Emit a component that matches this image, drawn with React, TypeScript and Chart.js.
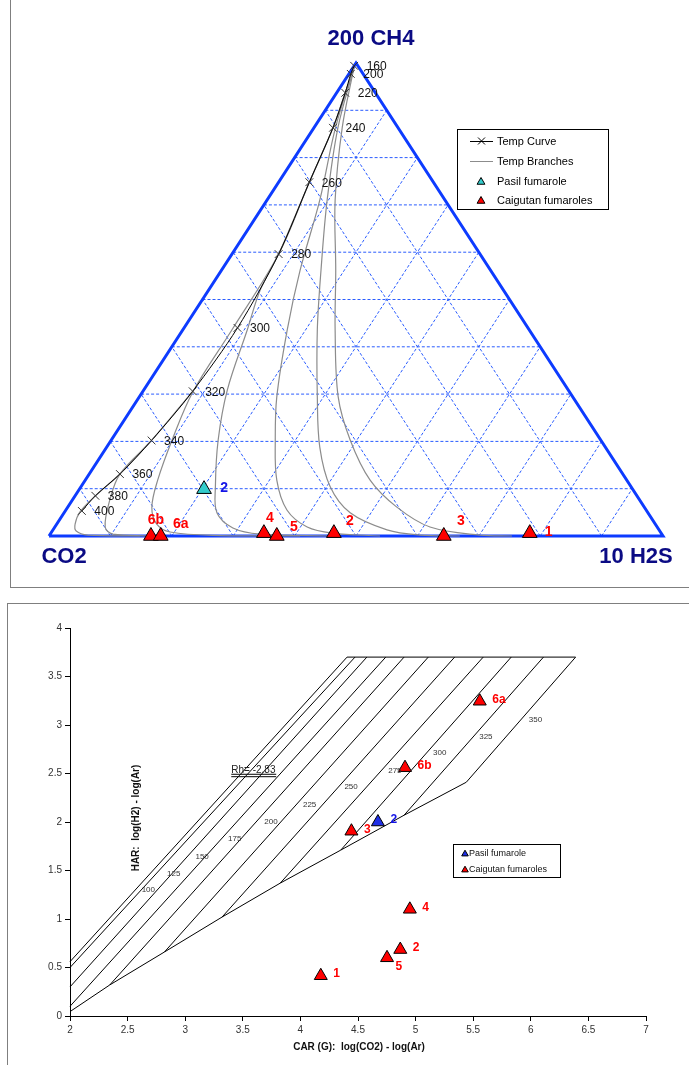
import React, { useEffect, useRef } from "react";
import { Chart, registerables } from "chart.js";

Chart.register(...registerables);

const FONT = '"Liberation Sans", Arial, sans-serif';

// ================= TOP: ternary CO2 - CH4 - H2S (values in %, CO2 = rest) =================
const gridSteps = [10, 20, 30, 40, 50, 60, 70, 80, 90];
const frameH2S = [0, 100, 0, 0];
const frameCH4 = [0, 0, 100, 0];

const tempLabels = ["160", "200", "220", "240", "260", "280", "300", "320", "340", "360", "380", "400"];
const tempH2S = [0.0, 0.3, 1.4, 3.1, 5.0, 7.6, 8.7, 8.1, 6.6, 5.0, 3.3, 2.7];
const tempCH4 = [99.4, 97.7, 93.7, 86.3, 74.8, 59.6, 44.0, 30.6, 20.2, 13.1, 8.5, 5.3];

// Temperature branches (grey)
const branchA_H2S = [6.6, 5.0, 3.3, 2.5, 3.0, 3.9, 6.2, 14.8];
const branchA_CH4 = [20.2, 13.1, 8.5, 5.1, 2.5, 1.06, 0.2, 0];
const branchB_H2S = [8.1, 6.6, 5.0, 6.1, 8.2, 10.2, 16.4];
const branchB_CH4 = [30.6, 20.2, 13.1, 7.6, 1.9, 0.4, 0];
const branchC_H2S = [0.2, 1.4, 3.1, 5.0, 7.6, 8.0, 8.2, 9.9, 11.8, 13.7, 16.3, 19.3, 27.8, 40.9];
const branchC_CH4 = [98.9, 93.7, 86.3, 74.8, 59.6, 43.6, 30.4, 20.3, 11.8, 6.1, 2.5, 0.85, 0.1, 0];
const branchD_H2S = [0.2, 1.4, 3.1, 5.0, 7.6, 8.4, 10.5, 13.6, 17.4, 21.9, 24.9, 29.1, 34.2, 45.8];
const branchD_CH4 = [98.9, 93.7, 86.3, 74.8, 59.6, 52.0, 43.6, 30.9, 20.3, 10.4, 4.9, 1.7, 0.4, 0];
const branchE_H2S = [0.2, 3.5, 8.6, 12.8, 17.0, 22.4, 26.7, 31.2, 36.0, 41.1, 45.9, 53.9];
const branchE_CH4 = [98.9, 86.3, 71.0, 56.2, 43.6, 29.4, 20.3, 11.8, 5.5, 1.9, 0.6, 0];
const branchF_H2S = [0.2, 3.9, 9.8, 16.2, 21.9, 29.0, 34.7, 40.6, 46.6, 54.4, 60.3, 66.9];
const branchF_CH4 = [98.9, 86.3, 71.0, 56.2, 43.6, 29.4, 18.8, 10.4, 4.9, 1.3, 0.2, 0];
const branchG_H2S = [0.2, 4.6, 11.1, 18.6, 24.8, 32.4, 38.9, 46.4, 53.6, 61.1, 70.1, 75.4];
const branchG_CH4 = [98.9, 86.3, 71.0, 56.2, 43.6, 29.4, 20.3, 11.8, 6.1, 1.9, 0.2, 0];

const pasilTopNames = ["2"];
const pasilTopH2S = [20.3];
const pasilTopCH4 = [9.9];

const caigTopNames = ["6b", "6a", "4", "5", "2", "3", "1"];
const caigTopH2S = [16.6, 18.2, 34.7, 37.1, 46.1, 64.3, 78.0];
const caigTopCH4 = [0, 0, 0.6, 0, 0.6, 0, 0.6];

// ================= BOTTOM: CAR - HAR grid =================
const isoStartCAR = [2.0, 2.0, 2.0, 2.0, 2.345, 2.82, 3.32, 3.825, 4.35, 4.9];
const isoStartHAR = [0.56, 0.5, 0.3, 0.1, 0.32, 0.66, 1.02, 1.37, 1.71, 2.07];
const isoEndCAR = [4.405, 4.474, 4.577, 4.741, 4.9, 5.11, 5.339, 5.587, 5.83, 6.11];
const gridTopHAR = 3.7;
const boundaryCAR = [2.0, 2.345, 2.82, 3.32, 3.825, 4.35, 4.9, 5.44, 6.389];
const boundaryHAR = [0.045, 0.32, 0.66, 1.02, 1.37, 1.71, 2.07, 2.41, 3.7];
const topEdgeCAR = [4.405, 6.389];

const isoLabels = ["100", "125", "150", "175", "200", "225", "250", "275", "300", "325", "350"];
const isoLabelCAR = [2.68, 2.9, 3.147, 3.43, 3.745, 4.08, 4.44, 4.82, 5.21, 5.61, 6.04];
const isoLabelHAR = [1.3, 1.47, 1.64, 1.83, 2.0, 2.18, 2.36, 2.53, 2.71, 2.88, 3.05];

const rhText = "Rh= -2.83";
const rhCAR = [3.4, 3.79];
const rhHAR = [2.492, 2.467];
const rhTextHAR = 2.505;

const pasilBotNames = ["2"];
const pasilBotCAR = [4.673];
const pasilBotHAR = [2.0];

const caigBotNames = ["1", "2", "3", "4", "5", "6a", "6b"];
const caigBotCAR = [4.177, 4.867, 4.443, 4.95, 4.752, 5.557, 4.908];
const caigBotHAR = [0.415, 0.685, 1.905, 1.1, 0.6, 3.245, 2.56];

const xTicksMin = 2, xTicksMax = 7, yTicksMin = 0, yTicksMax = 4, tickStep = 0.5;

// ================= helpers =================
type Pt = { x: number; y: number };
const tern = (h2s: number[], ch4: number[]): Pt[] =>
  h2s.map((h, i) => ({ x: (h + ch4[i] / 2) / 100, y: ch4[i] / 100 }));
const xy = (xs: number[], ys: number[]): Pt[] => xs.map((x, i) => ({ x, y: ys[i] }));

function tri(ctx: CanvasRenderingContext2D, x: number, y: number, r: number, fill: string) {
  ctx.beginPath();
  for (let k = 0; k < 3; k++) {
    const a = (k * 2 * Math.PI) / 3;
    const px = x + Math.sin(a) * r;
    const py = y - Math.cos(a) * r;
    if (k === 0) ctx.moveTo(px, py);
    else ctx.lineTo(px, py);
  }
  ctx.closePath();
  ctx.fillStyle = fill;
  ctx.fill();
  ctx.strokeStyle = "#000";
  ctx.lineWidth = 1;
  ctx.stroke();
}

const lineDs = (data: Pt[], color: string, width: number, order: number, extra: any = {}) => ({
  data,
  showLine: true,
  borderColor: color,
  borderWidth: width,
  pointRadius: 0,
  pointHoverRadius: 0,
  fill: false,
  clip: false,
  order,
  ...extra,
});

// ================= top chart =================
const TOP_LABEL_OFFSETS: Record<string, [number, number]> = {
  "6b": [5, -16],
  "6a": [20, -12],
  "4": [6, -15],
  "5": [17, -9],
  "2": [16, -12.5],
  "3": [17, -15],
  "1": [19, -1],
};

function topConfig(): any {
  const datasets: any[] = [];
  // points
  datasets.push({
    data: tern(caigTopH2S, caigTopCH4),
    pointStyle: "triangle",
    pointRadius: 8.5,
    pointBackgroundColor: "#ff0000",
    pointBorderColor: "#000",
    pointBorderWidth: 1,
    showLine: false,
    clip: false,
    order: 0,
  });
  datasets.push({
    data: tern(pasilTopH2S, pasilTopCH4),
    pointStyle: "triangle",
    pointRadius: 8.5,
    pointBackgroundColor: "#33cccc",
    pointBorderColor: "#000",
    pointBorderWidth: 1,
    showLine: false,
    clip: false,
    order: 0,
  });
  // temp curve
  datasets.push(
    lineDs(tern(tempH2S, tempCH4), "#000", 1, 1, {
      pointRadius: 5.5,
      pointStyle: "crossRot",
      pointBorderColor: "#333",
      pointBorderWidth: 1,
      tension: 0.3,
    })
  );
  const branches: [number[], number[]][] = [
    [branchA_H2S, branchA_CH4],
    [branchB_H2S, branchB_CH4],
    [branchC_H2S, branchC_CH4],
    [branchD_H2S, branchD_CH4],
    [branchE_H2S, branchE_CH4],
    [branchF_H2S, branchF_CH4],
    [branchG_H2S, branchG_CH4],
  ];
  branches.forEach(([h, c]) => datasets.push(lineDs(tern(h, c), "#8c8c8c", 1.2, 2, { tension: 0.35 })));
  // frame
  datasets.push(lineDs(tern(frameH2S, frameCH4), "#0d3bff", 3, 3, { borderJoinStyle: "miter" }));
  // grid
  gridSteps.forEach((f) => {
    const dash = { borderDash: [3, 2] };
    datasets.push(lineDs(tern([0, 100 - f], [f, f]), "#2a5cff", 1, 4, dash));
    datasets.push(lineDs(tern([f, f], [0, 100 - f]), "#2a5cff", 1, 4, dash));
    datasets.push(lineDs(tern([100 - f, 0], [0, 100 - f]), "#2a5cff", 1, 4, dash));
  });

  const decor = {
    id: "topDecor",
    afterDatasetsDraw(chart: any) {
      const ctx: CanvasRenderingContext2D = chart.ctx;
      const xs = chart.scales.x;
      const ys = chart.scales.y;
      ctx.save();
      // vertex titles
      ctx.fillStyle = "#0b0b84";
      ctx.font = `bold 22px ${FONT}`;
      ctx.textAlign = "center";
      ctx.textBaseline = "alphabetic";
      ctx.fillText("200 CH4", xs.getPixelForValue(0.5) + 15, ys.getPixelForValue(1) - 18);
      ctx.fillText("CO2", xs.getPixelForValue(0) + 15, ys.getPixelForValue(0) + 27);
      ctx.fillText("10 H2S", xs.getPixelForValue(1) - 27, ys.getPixelForValue(0) + 27);

      // temperature labels
      const tMeta = chart.getDatasetMeta(2);
      ctx.fillStyle = "#111";
      ctx.font = `12px ${FONT}`;
      ctx.textAlign = "left";
      ctx.textBaseline = "middle";
      tempLabels.forEach((t, i) => {
        const p = tMeta.data[i];
        ctx.fillText(t, p.x + 12.5, p.y + 1);
      });

      // point labels
      ctx.font = `bold 14px ${FONT}`;
      ctx.textAlign = "center";
      const cMeta = chart.getDatasetMeta(0);
      ctx.fillStyle = "#ff0000";
      caigTopNames.forEach((n, i) => {
        const p = cMeta.data[i];
        const o = TOP_LABEL_OFFSETS[n];
        ctx.fillText(n, p.x + o[0], p.y + o[1]);
      });
      const pMeta = chart.getDatasetMeta(1);
      ctx.fillStyle = "#1414e6";
      pasilTopNames.forEach((n, i) => {
        const p = pMeta.data[i];
        ctx.fillText(n, p.x + 20, p.y - 1);
      });

      // legend
      const L = 457, T = 129, R = 608, B = 209;
      ctx.fillStyle = "#fff";
      ctx.fillRect(L, T, R - L, B - T);
      ctx.strokeStyle = "#000";
      ctx.lineWidth = 1;
      ctx.strokeRect(L + 0.5, T + 0.5, R - L, B - T);
      const rows = [141, 161, 181, 200];
      // temp curve
      ctx.beginPath();
      ctx.moveTo(470, rows[0] + 0.5);
      ctx.lineTo(493, rows[0] + 0.5);
      ctx.stroke();
      ctx.beginPath();
      ctx.moveTo(478, rows[0] - 3.5);
      ctx.lineTo(485, rows[0] + 3.5);
      ctx.moveTo(485, rows[0] - 3.5);
      ctx.lineTo(478, rows[0] + 3.5);
      ctx.stroke();
      // branches
      ctx.strokeStyle = "#8c8c8c";
      ctx.beginPath();
      ctx.moveTo(470, rows[1] + 0.5);
      ctx.lineTo(493, rows[1] + 0.5);
      ctx.stroke();
      tri(ctx, 481, rows[2] + 1, 4.5, "#33cccc");
      tri(ctx, 481, rows[3] + 1, 4.5, "#ff0000");
      ctx.fillStyle = "#000";
      ctx.font = `11px ${FONT}`;
      ctx.textAlign = "left";
      ctx.textBaseline = "middle";
      ["Temp Curve", "Temp Branches", "Pasil fumarole", "Caigutan fumaroles"].forEach((s, i) =>
        ctx.fillText(s, 497, rows[i] + 0.5)
      );
      ctx.restore();
    },
  };

  return {
    type: "scatter",
    data: { datasets },
    options: {
      responsive: false,
      animation: false,
      events: [],
      layout: { padding: { left: 49, right: 26, top: 63, bottom: 54 } },
      scales: {
        x: { type: "linear", min: 0, max: 1, display: false },
        y: { type: "linear", min: 0, max: 1, display: false },
      },
      plugins: { legend: { display: false }, tooltip: { enabled: false } },
    },
    plugins: [decor],
  };
}

// ================= bottom chart =================
function bottomConfig(): any {
  const datasets: any[] = [];
  datasets.push({
    data: xy(caigBotCAR, caigBotHAR),
    pointStyle: "triangle",
    pointRadius: 7.5,
    pointBackgroundColor: "#ff0000",
    pointBorderColor: "#000",
    pointBorderWidth: 1,
    clip: false,
    order: 0,
  });
  datasets.push({
    data: xy(pasilBotCAR, pasilBotHAR),
    pointStyle: "triangle",
    pointRadius: 7.5,
    pointBackgroundColor: "#1f2fe6",
    pointBorderColor: "#000",
    pointBorderWidth: 1,
    clip: false,
    order: 0,
  });
  isoStartCAR.forEach((x0, i) => {
    datasets.push(lineDs(xy([x0, isoEndCAR[i]], [isoStartHAR[i], gridTopHAR]), "#000", 1, 2));
  });
  datasets.push(lineDs(xy(boundaryCAR, boundaryHAR), "#000", 1, 2));
  datasets.push(lineDs(xy(topEdgeCAR, [gridTopHAR, gridTopHAR]), "#000", 1, 2));
  datasets.push(lineDs(xy(rhCAR, [rhHAR[0], rhHAR[0]]), "#000", 1, 2));
  datasets.push(lineDs(xy(rhCAR, [rhHAR[1], rhHAR[1]]), "#000", 1, 2));

  const decor = {
    id: "botDecor",
    afterDatasetsDraw(chart: any) {
      const ctx: CanvasRenderingContext2D = chart.ctx;
      const xs = chart.scales.x;
      const ys = chart.scales.y;
      ctx.save();
      // isotherm labels
      ctx.fillStyle = "#333";
      ctx.font = `8px ${FONT}`;
      ctx.textAlign = "center";
      ctx.textBaseline = "middle";
      isoLabels.forEach((t, i) => {
        ctx.fillText(t, xs.getPixelForValue(isoLabelCAR[i]), ys.getPixelForValue(isoLabelHAR[i]));
      });
      // Rh text
      ctx.fillStyle = "#222";
      ctx.font = `10px ${FONT}`;
      ctx.textAlign = "left";
      ctx.textBaseline = "alphabetic";
      ctx.fillText(rhText, xs.getPixelForValue(rhCAR[0]), ys.getPixelForValue(rhTextHAR));
      // point labels
      ctx.font = `bold 12px ${FONT}`;
      ctx.textBaseline = "middle";
      const cMeta = chart.getDatasetMeta(0);
      ctx.fillStyle = "#ff0000";
      caigBotNames.forEach((n, i) => {
        const p = cMeta.data[i];
        if (n === "5") ctx.fillText(n, p.x + 8.5, p.y + 9);
        else ctx.fillText(n, p.x + 12.5, p.y - 2);
      });
      const pMeta = chart.getDatasetMeta(1);
      ctx.fillStyle = "#1414e6";
      pasilBotNames.forEach((n, i) => {
        const p = pMeta.data[i];
        ctx.fillText(n, p.x + 12.5, p.y - 2);
      });
      // axis titles
      ctx.fillStyle = "#111";
      ctx.font = `bold 10px ${FONT}`;
      ctx.textAlign = "center";
      ctx.fillText("CAR (G):  log(CO2) - log(Ar)", (chart.chartArea.left + chart.chartArea.right) / 2 + 1, chart.chartArea.bottom + 31);
      ctx.save();
      ctx.translate(136, 215);
      ctx.rotate(-Math.PI / 2);
      ctx.fillText("HAR:  log(H2) - log(Ar)", 0, 0);
      ctx.restore();
      // legend
      const L = 453, T = 241, R = 560, B = 274;
      ctx.fillStyle = "#fff";
      ctx.fillRect(L, T, R - L, B - T);
      ctx.strokeStyle = "#000";
      ctx.lineWidth = 1;
      ctx.strokeRect(L + 0.5, T + 0.5, R - L, B - T);
      tri(ctx, 465, 251, 3.8, "#1f2fe6");
      tri(ctx, 465, 267, 3.8, "#ff0000");
      ctx.fillStyle = "#111";
      ctx.font = `9px ${FONT}`;
      ctx.textAlign = "left";
      ctx.textBaseline = "middle";
      ctx.fillText("Pasil fumarole", 469, 250.5);
      ctx.fillText("Caigutan fumaroles", 469, 266.5);
      ctx.restore();
    },
  };

  const axisCommon = (min: number, max: number) => ({
    type: "linear",
    min,
    max,
    ticks: {
      stepSize: tickStep,
      color: "#333",
      font: { family: FONT, size: 10 },
      padding: 3,
      autoSkip: false,
      callback: (v: number) => String(Math.round(v * 100) / 100),
    },
    grid: { drawOnChartArea: false, drawTicks: true, tickLength: 5, color: "#000" },
    border: { color: "#000", width: 1 },
  });

  return {
    type: "scatter",
    data: { datasets },
    options: {
      responsive: false,
      animation: false,
      events: [],
      layout: { padding: { left: 0, right: 43, top: 25, bottom: 0 } },
      scales: {
        x: { ...axisCommon(xTicksMin, xTicksMax), afterFit: (s: any) => { s.height = 49; } },
        y: { ...axisCommon(yTicksMin, yTicksMax), afterFit: (s: any) => { s.width = 70; } },
      },
      plugins: { legend: { display: false }, tooltip: { enabled: false } },
    },
    plugins: [decor],
  };
}

export default function App() {
  const topRef = useRef<HTMLCanvasElement>(null);
  const botRef = useRef<HTMLCanvasElement>(null);
  useEffect(() => {
    const c1 = new Chart(topRef.current as HTMLCanvasElement, topConfig());
    const c2 = new Chart(botRef.current as HTMLCanvasElement, bottomConfig());
    return () => {
      c1.destroy();
      c2.destroy();
    };
  }, []);
  return (
    <div style={{ position: "fixed", left: 0, top: 0, width: 689, height: 1065, overflow: "hidden", background: "#fff" }}>
      <div style={{ position: "absolute", left: 10, top: -1, width: 700, height: 587, border: "1px solid #7f7f7f" }} />
      <div style={{ position: "absolute", left: 7, top: 603, width: 700, height: 500, border: "1px solid #7f7f7f" }} />
      <canvas ref={topRef} width={689} height={590} style={{ position: "absolute", left: 0, top: 0, width: 689, height: 590 }} />
      <canvas ref={botRef} width={689} height={462} style={{ position: "absolute", left: 0, top: 603, width: 689, height: 462 }} />
    </div>
  );
}
